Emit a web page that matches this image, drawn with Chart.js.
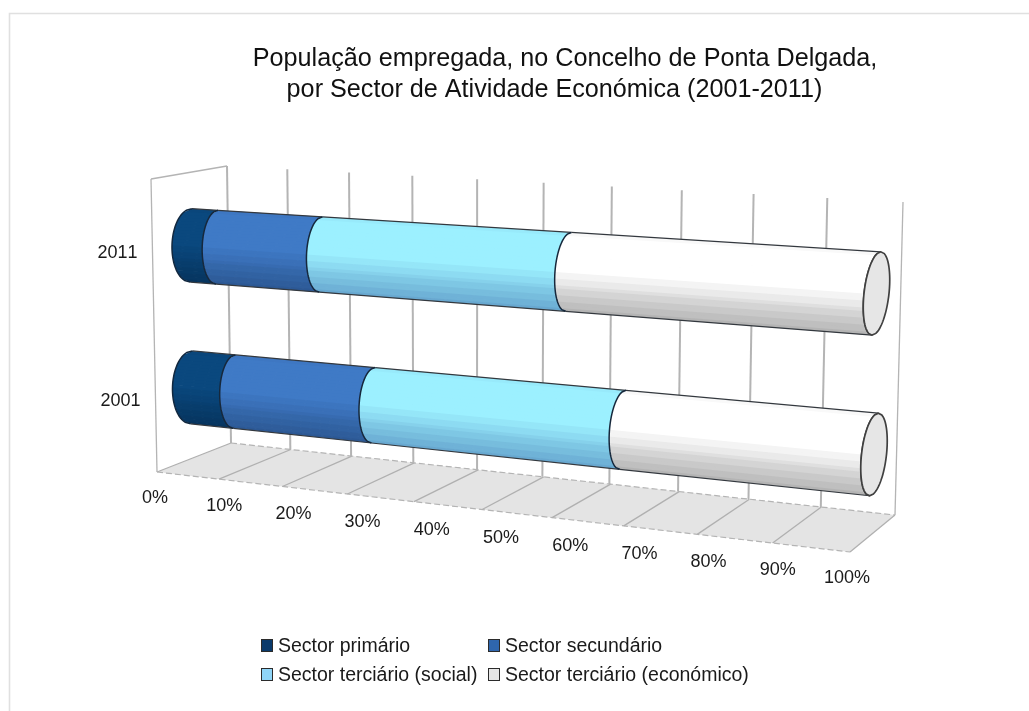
<!DOCTYPE html>
<html><head><meta charset="utf-8">
<style>html,body{margin:0;padding:0;background:#fff;overflow:hidden}canvas{display:block;filter:blur(0.45px)}</style>
<script src="https://cdn.jsdelivr.net/npm/chart.js@4/dist/chart.umd.min.js"></script>
</head><body>
<canvas id="c" width="1029" height="711"></canvas>
<script>
const categories = ['2011', '2001'];
const primario   = [4.3, 7.1];
const secundario = [16.7, 22.1];
const social     = [37.2, 36.9];
const economico  = [41.8, 33.9];
const seriesNames = ['Sector primário', 'Sector secundário', 'Sector terciário (social)', 'Sector terciário (económico)'];
const legendColors = ['#0a3a6b', '#2f66ad', '#8fd5f8', '#e6e6e6'];
const topColors = [[10,72,126],[63,122,198],[156,240,255],[255,255,255]];
const botColors = [[6,52,94],[44,88,148],[104,168,208],[180,180,180]];
const titleLines = ['População empregada, no Concelho de Ponta Delgada,', 'por Sector de Atividade Económica (2001-2011)   '];

function homography(q){
  const [p0,p1,p2,p3]=q;
  const dx1=p1[0]-p2[0],dx2=p3[0]-p2[0],sx=p0[0]-p1[0]+p2[0]-p3[0];
  const dy1=p1[1]-p2[1],dy2=p3[1]-p2[1],sy=p0[1]-p1[1]+p2[1]-p3[1];
  const det=dx1*dy2-dx2*dy1;
  const g=(sx*dy2-dx2*sy)/det,h=(dx1*sy-sx*dy1)/det;
  const a=p1[0]-p0[0]+g*p1[0],b=p3[0]-p0[0]+h*p3[0],c=p0[0];
  const d=p1[1]-p0[1]+g*p1[1],e=p3[1]-p0[1]+h*p3[1],f=p0[1];
  return (u,v)=>{const w=g*u+h*v+1;return [(a*u+b*v+c)/w,(d*u+e*v+f)/w];};
}
const wallH  = homography([[227,166],[903,202],[895,515],[231,443]]);
const floorH = homography([[231,443],[895,515],[850,552],[157,472]]);
const barH   = homography([[190.75,174],[877.75,212.5],[872.75,534.5],[191.75,458]]);

function line(ctx,a,b,col,lw,dash){
  ctx.save();ctx.strokeStyle=col;ctx.lineWidth=lw;ctx.setLineDash(dash||[]);
  ctx.beginPath();ctx.moveTo(a[0],a[1]);ctx.lineTo(b[0],b[1]);ctx.stroke();ctx.restore();
}
const mix=(a,b,k)=>`rgb(${a.map((x,i)=>Math.round(x+(b[i]-x)*k)).join(',')})`;
const bulge=u=>u<1e-6?19:(u>1-1e-6?12.5:15-2.5*u);
const tilt=u=>1+2.75*u;

const scene3d={
  id:'scene3d',
  beforeDatasetsDraw(chart){
    const ctx=chart.ctx,A=chart.chartArea,xs=chart.scales.x,ys=chart.scales.y;
    const U=v=>(xs.getPixelForValue(v)-A.left)/(A.right-A.left);
    const V=p=>(p-A.top)/(A.bottom-A.top);
    const Ux=p=>(p-A.left)/(A.right-A.left);
    // frame
    ctx.save();ctx.strokeStyle='#e0e0e0';ctx.lineWidth=1.6;
    ctx.beginPath();ctx.moveTo(9.5,711);ctx.lineTo(9.5,13.5);ctx.lineTo(1029,13.5);ctx.stroke();ctx.restore();
    // floor
    ctx.save();ctx.fillStyle='#e4e4e4';ctx.beginPath();
    [[0,0],[1,0],[1,1],[0,1]].forEach((p,i)=>{const q=floorH(p[0],p[1]);i?ctx.lineTo(q[0],q[1]):ctx.moveTo(q[0],q[1]);});
    ctx.closePath();ctx.fill();ctx.restore();
    line(ctx,floorH(0,0),floorH(1,0),'#b4b4b4',1.2,[6,3]);
    line(ctx,floorH(0,1),floorH(1,1),'#b4b4b4',1.2,[6,3]);
    // grid
    xs.ticks.forEach(t=>{
      const u=U(t.value);
      line(ctx,floorH(u,0),floorH(u,1),'#b0b0b0',1.3);
      line(ctx,wallH(u,0),wallH(u,1),'#b4b4b4',u===1?1.3:2);
    });
    // left wall
    const lt=[151,179],lb=[157,472];
    line(ctx,lt,wallH(0,0),'#b4b4b4',1.3);
    line(ctx,lt,lb,'#b4b4b4',1.3);
    // bars
    const ptFor=(vt,vb)=>(u,s,side)=>{
      const p=barH(u,(vt+vb)/2+s*(vb-vt)/2);
      return [p[0]-s*tilt(u)+side*bulge(u)*Math.sqrt(Math.max(0,1-s*s)),p[1]];
    };
    chart.data.datasets.forEach((ds,di)=>{
      chart.getDatasetMeta(di).data.forEach(el=>{
        const u0=Ux(el.base),u1=Ux(el.x);
        const pt=ptFor(V(el.y-el.height/2),V(el.y+el.height/2));
        const N=24;
        for(let k=0;k<N;k++){
          const s0=-1+2*k/N,s1=-1+2*(k+1)/N,tm=(k+.5)/N;
          const sh=tm<.45?(tm<.06?.12*(1-tm/.06):0):Math.round((tm-.45)/.55*7)/7;
          ctx.fillStyle=mix(topColors[di],botColors[di],sh);
          ctx.beginPath();
          const s2=Math.min(1,s1+.02);
          const a=pt(u0,s0,-1),b=pt(u1,s0,-1),c=pt(u1,s2,-1),d=pt(u0,s2,-1);
          ctx.moveTo(a[0],a[1]);ctx.lineTo(b[0],b[1]);ctx.lineTo(c[0],c[1]);ctx.lineTo(d[0],d[1]);ctx.closePath();ctx.fill();
        }
      });
    });
    // outlines and caps
    chart.data.datasets.forEach((ds,di)=>{
      chart.getDatasetMeta(di).data.forEach(el=>{
        const u0=Ux(el.base),u1=Ux(el.x);
        const pt=ptFor(V(el.y-el.height/2),V(el.y+el.height/2));
        line(ctx,pt(u0,-1,0),pt(u1,-1,0),'#33383e',1.2);
        line(ctx,pt(u0,1,0),pt(u1,1,0),'#33383e',1.2);
        const arc=(u,side)=>{for(let i=0;i<=48;i++){const q=pt(u,-1+2*i/48,side);i?ctx.lineTo(q[0],q[1]):ctx.moveTo(q[0],q[1]);}};
        ctx.save();ctx.strokeStyle=di===3?'#4a4a4a':'#16283c';ctx.lineWidth=1.5;
        ctx.beginPath();arc(u1,-1);ctx.stroke();
        if(di===0){ctx.beginPath();arc(u0,-1);ctx.strokeStyle='#12283f';ctx.stroke();}
        if(di===3){
          ctx.beginPath();arc(u1,-1);
          for(let i=48;i>=0;i--){const q=pt(u1,-1+2*i/48,1);ctx.lineTo(q[0],q[1]);}
          ctx.closePath();ctx.fillStyle='#e6e6e6';ctx.fill();ctx.strokeStyle='#404040';ctx.lineWidth=1.7;ctx.stroke();
        }
        ctx.restore();
      });
    });
    // tick labels from the scales
    ctx.save();ctx.font='18px "Liberation Sans"';ctx.fillStyle='#1a1a1a';ctx.textAlign='center';ctx.textBaseline='middle';ctx.fontKerning='none';
    xs.ticks.forEach(t=>{
      const u=U(t.value);
      ctx.fillText(t.label,155+692*u,498.5+80*u);
    });
    ys.ticks.forEach((t,i)=>{
      const n=V(ys.getPixelForTick(i));
      ctx.fillText(t.label,117.5+(n-.25)*6,253.5+(n-.25)*296);
    });
    // legend
    ctx.fontKerning='auto';
    ctx.font='19.5px "Liberation Sans"';
    ctx.textAlign='left';ctx.textBaseline='alphabetic';
    const cx=[261,488],cy=[639,668];
    chart.data.datasets.forEach((ds,i)=>{
      const x=cx[i%2],y=cy[i>>1];
      ctx.fillStyle=ds.backgroundColor;ctx.strokeStyle='#2b2b2b';ctx.lineWidth=1;
      ctx.fillRect(x,y,12,13);ctx.strokeRect(x+.5,y+.5,11,12);
      ctx.fillStyle='#1a1a1a';
      ctx.fillText(ds.label,x+17,y+13);
    });
    ctx.restore();
    return false;
  }
};

new Chart(document.getElementById('c'),{
  type:'bar',
  data:{labels:categories,datasets:[
    {label:seriesNames[0],data:primario,backgroundColor:legendColors[0]},
    {label:seriesNames[1],data:secundario,backgroundColor:legendColors[1]},
    {label:seriesNames[2],data:social,backgroundColor:legendColors[2]},
    {label:seriesNames[3],data:economico,backgroundColor:legendColors[3]}
  ]},
  options:{
    indexAxis:'y',responsive:false,animation:false,
    datasets:{bar:{barPercentage:.515,categoryPercentage:1}},
    layout:{padding:{left:170,right:69,top:14,bottom:160}},
    scales:{
      x:{stacked:true,min:0,max:100,display:false,ticks:{stepSize:10,callback:v=>v+'%'}},
      y:{stacked:true,display:false}
    },
    plugins:{
      legend:{display:false},tooltip:{enabled:false},
      title:{display:true,fullSize:false,text:titleLines,color:'#111',font:{family:'"Liberation Sans"',size:25.2,weight:'normal',lineHeight:1.23},padding:{top:30,bottom:10}}
    }
  },
  plugins:[scene3d]
});
</script>
</body></html>
